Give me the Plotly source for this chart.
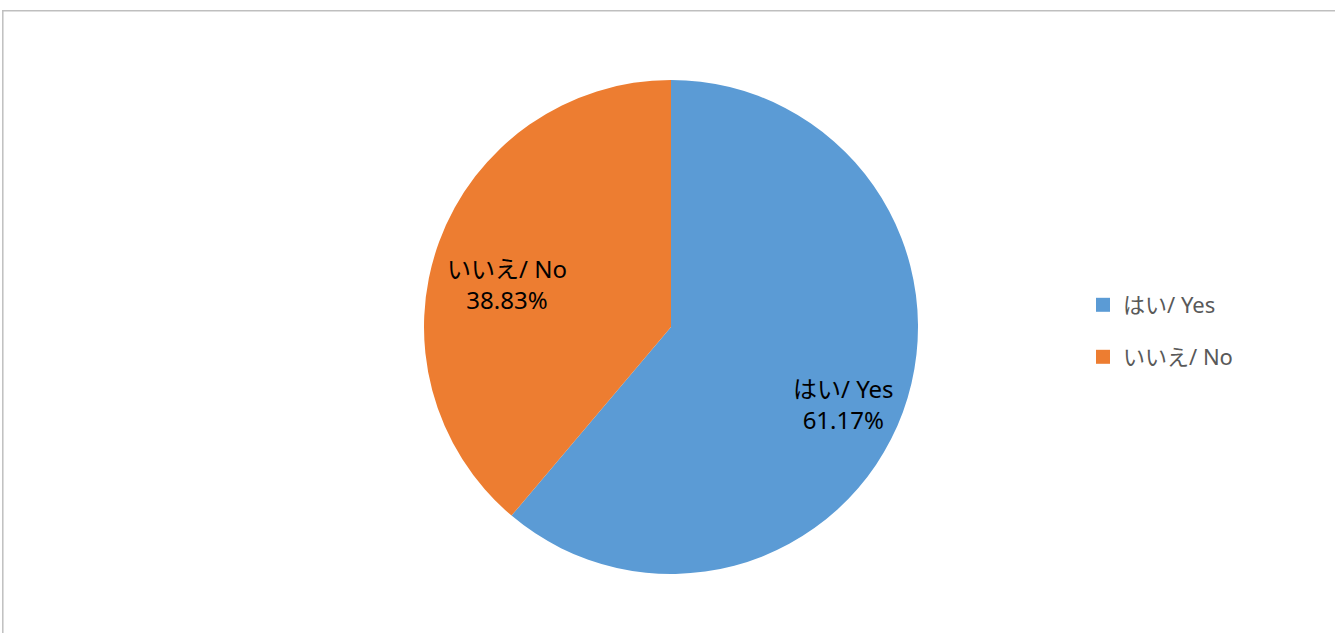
import math
import plotly.graph_objects as go

categories = ["はい/ Yes", "いいえ/ No"]
values = [61.17, 38.83]
colors = ["#5B9BD5", "#ED7D31"]

W, H = 1335, 633
FONT = "Noto Sans, Noto Sans CJK JP, sans-serif"

# pie geometry (pixels)
CX, CY, R = 671, 327, 247
# label placement tweaks (Excel best-fit style)
label_radius = [0.766, 0.686]
label_turn = [4.0, -5.4]

fig = go.Figure()
fig.add_trace(go.Pie(
    labels=categories,
    values=values,
    marker=dict(colors=colors, line=dict(width=0)),
    sort=False,
    direction="clockwise",
    rotation=0,
    textinfo="none",
    showlegend=False,
    hoverinfo="label+percent",
    domain=dict(x=[(CX - R) / W, (CX + R) / W],
                y=[(H - CY - R) / H, (H - CY + R) / H]),
))

# data labels computed from the values
total = sum(values)
annotations = []
cum = 0.0
for i, (cat, v) in enumerate(zip(categories, values)):
    mid = (cum + v / 2) / total * 360.0 + label_turn[i]
    cum += v
    rr = label_radius[i] * R
    px = CX + rr * math.sin(math.radians(mid))
    py = CY - rr * math.cos(math.radians(mid))
    annotations.append(dict(
        x=px / W, y=1 - py / H, xref="paper", yref="paper",
        text=f"{cat}<br>{v / total * 100:.2f}%",
        showarrow=False, xanchor="center", yanchor="middle",
        font=dict(family=FONT, size=24, color="#000000"),
    ))

# legend entries, one legend per category for the wide spacing
legend_names = ["legend", "legend2"]
legend_y = [1 - 305 / H, 1 - 357 / H]
for i, (cat, col) in enumerate(zip(categories, colors)):
    fig.add_trace(go.Scatter(
        x=[None], y=[None], mode="markers", name=cat,
        marker=dict(symbol="square", size=14, color=col),
        legend=legend_names[i], showlegend=True,
    ))

legend_common = dict(
    font=dict(family=FONT, size=22, color="#595959"),
    bgcolor="rgba(0,0,0,0)", xanchor="left", yanchor="middle",
    itemwidth=30,
)
fig.update_layout(
    width=W, height=H,
    margin=dict(l=0, r=0, t=0, b=0),
    paper_bgcolor="white", plot_bgcolor="white",
    xaxis=dict(visible=False), yaxis=dict(visible=False),
    legend=dict(x=1083 / W, y=legend_y[0], **legend_common),
    legend2=dict(x=1083 / W, y=legend_y[1], **legend_common),
    annotations=annotations,
    shapes=[
        dict(type="line", xref="paper", yref="paper", x0=2 / W, x1=1, y0=1 - 10.8 / H, y1=1 - 10.8 / H,
             line=dict(color="#BFBFBF", width=1.5)),
        dict(type="line", xref="paper", yref="paper", x0=2.8 / W, x1=2.8 / W, y0=0, y1=1 - 10 / H,
             line=dict(color="#BFBFBF", width=1.5)),
    ],
)

fig.write_html("out.html", config={"displayModeBar": False},
               post_script="document.body.style.margin='0';")
